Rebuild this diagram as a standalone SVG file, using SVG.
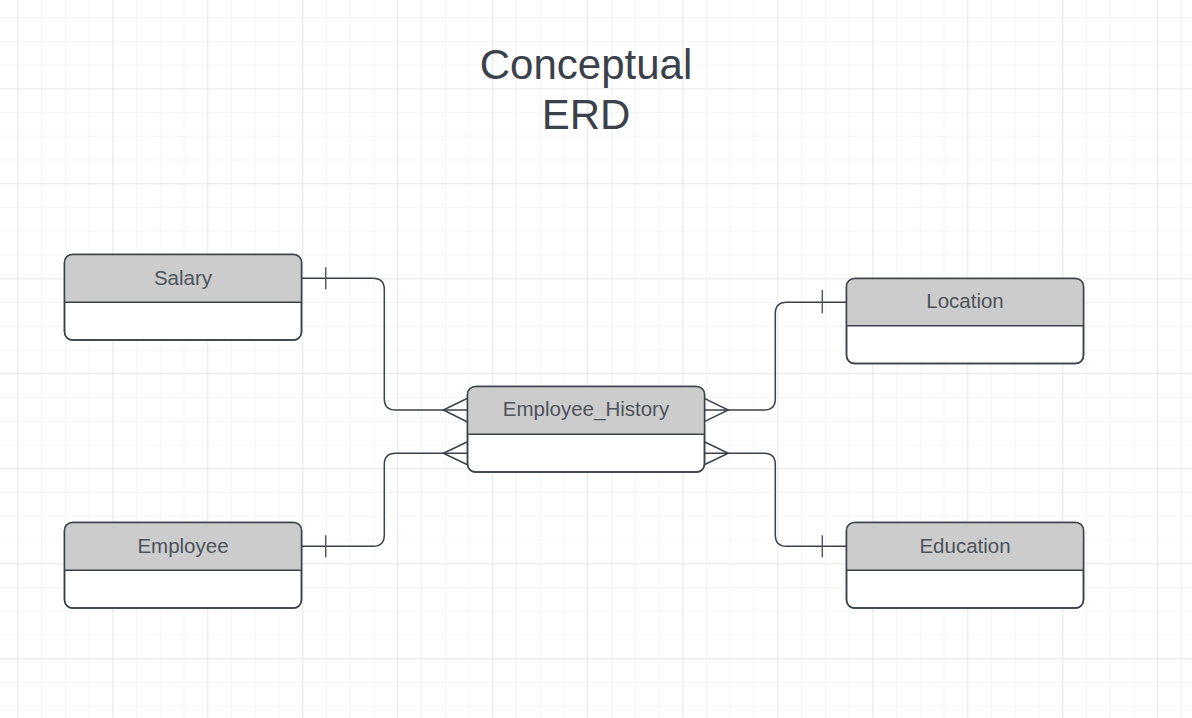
<svg xmlns="http://www.w3.org/2000/svg" width="1192" height="718" viewBox="0 0 1192 718">
  <defs>
    <pattern id="minor" x="17.3" y="-6.7" width="23.75" height="23.75" patternUnits="userSpaceOnUse">
      <path d="M0 0 H23.75 M0 0 V23.75" fill="none" stroke="#ececec" stroke-width="1"/>
    </pattern>
    <pattern id="major" x="17.3" y="-6.7" width="95" height="95" patternUnits="userSpaceOnUse">
      <path d="M0 0 H95 M0 0 V95" fill="none" stroke="#dcdcdc" stroke-width="1"/>
    </pattern>
  </defs>
  <style>
    .box { fill: #ffffff; stroke: #3a414a; stroke-width: 1.5; }
    .outline { fill: none; stroke: #3a414a; stroke-width: 1.5; }
    .head { fill: #cccccc; }
    .div { stroke: #3a414a; stroke-width: 1.5; }
    .lbl { font-family: "Liberation Sans", Arial, sans-serif; font-size: 20.5px; fill: #4d535b; text-anchor: middle; }
    .title { font-family: "Liberation Sans", Arial, sans-serif; font-size: 42px; fill: #3a414a; text-anchor: middle; }
    .conn { fill: none; stroke: #3a414a; stroke-width: 1.5; }
    .tick { fill: none; stroke: #555b63; stroke-width: 1.5; }
  </style>
  <rect width="1192" height="718" fill="#ffffff"/>
  <rect width="1192" height="718" fill="url(#minor)"/>
  <rect width="1192" height="718" fill="url(#major)"/>

  <g id="title">
    <text class="title" x="586" y="79">Conceptual</text>
    <text class="title" x="586" y="129">ERD</text>
  </g>

  <g id="connectors">
    <!-- Salary to Employee_History -->
    <path class="conn" d="M301.5 278.3 H373 Q384.3 278.3 384.3 289.6 V398.7 Q384.3 410 395.6 410 H467.5"/>
    <line class="tick" x1="325.7" y1="267.3" x2="325.7" y2="289.3"/>
    <path class="conn" d="M467.5 398.3 L443.3 410 L467.5 422"/>
    <!-- Employee to Employee_History -->
    <path class="conn" d="M301.5 546.3 H373 Q384.3 546.3 384.3 535 V464.6 Q384.3 453.3 395.6 453.3 H467.5"/>
    <line class="tick" x1="325.7" y1="535.3" x2="325.7" y2="557.3"/>
    <path class="conn" d="M467.5 441.7 L443.3 453.3 L467.5 464.8"/>
    <!-- Location to Employee_History -->
    <path class="conn" d="M846.5 302.3 H786.6 Q775.3 302.3 775.3 313.6 V398.7 Q775.3 410 764 410 H704.3"/>
    <line class="tick" x1="822.3" y1="290" x2="822.3" y2="313.3"/>
    <path class="conn" d="M704.3 398.3 L728.3 410 L704.3 421.7"/>
    <!-- Education to Employee_History -->
    <path class="conn" d="M846.5 546.3 H786.6 Q775.3 546.3 775.3 535 V464.6 Q775.3 453.3 764 453.3 H704.3"/>
    <line class="tick" x1="822.3" y1="535.3" x2="822.3" y2="557.3"/>
    <path class="conn" d="M704.3 441.7 L728.3 453.3 L704.3 464.8"/>
  </g>

  <g id="salary">
    <rect class="box" x="64.5" y="254.5" width="237" height="85.5" rx="8"/>
    <path class="head" d="M64.5 302.3 V262.5 Q64.5 254.5 72.5 254.5 H293.5 Q301.5 254.5 301.5 262.5 V302.3 Z"/>
    <line class="div" x1="64.5" y1="302.3" x2="301.5" y2="302.3"/>
    <rect class="outline" x="64.5" y="254.5" width="237" height="85.5" rx="8"/>
    <text class="lbl" x="183" y="284.5">Salary</text>
  </g>

  <g id="employee">
    <rect class="box" x="64.5" y="522.5" width="237" height="85.5" rx="8"/>
    <path class="head" d="M64.5 570.3 V530.5 Q64.5 522.5 72.5 522.5 H293.5 Q301.5 522.5 301.5 530.5 V570.3 Z"/>
    <line class="div" x1="64.5" y1="570.3" x2="301.5" y2="570.3"/>
    <rect class="outline" x="64.5" y="522.5" width="237" height="85.5" rx="8"/>
    <text class="lbl" x="183" y="552.5">Employee</text>
  </g>

  <g id="employee_history">
    <rect class="box" x="467.5" y="386.5" width="237" height="85.5" rx="8"/>
    <path class="head" d="M467.5 434.3 V394.5 Q467.5 386.5 475.5 386.5 H696.5 Q704.5 386.5 704.5 394.5 V434.3 Z"/>
    <line class="div" x1="467.5" y1="434.3" x2="704.5" y2="434.3"/>
    <rect class="outline" x="467.5" y="386.5" width="237" height="85.5" rx="8"/>
    <text class="lbl" x="586" y="416">Employee_History</text>
  </g>

  <g id="location">
    <rect class="box" x="846.5" y="278.5" width="237" height="85" rx="8"/>
    <path class="head" d="M846.5 325.8 V286.5 Q846.5 278.5 854.5 278.5 H1075.5 Q1083.5 278.5 1083.5 286.5 V325.8 Z"/>
    <line class="div" x1="846.5" y1="325.8" x2="1083.5" y2="325.8"/>
    <rect class="outline" x="846.5" y="278.5" width="237" height="85" rx="8"/>
    <text class="lbl" x="965" y="308">Location</text>
  </g>

  <g id="education">
    <rect class="box" x="846.5" y="522.5" width="237" height="85.5" rx="8"/>
    <path class="head" d="M846.5 570.3 V530.5 Q846.5 522.5 854.5 522.5 H1075.5 Q1083.5 522.5 1083.5 530.5 V570.3 Z"/>
    <line class="div" x1="846.5" y1="570.3" x2="1083.5" y2="570.3"/>
    <rect class="outline" x="846.5" y="522.5" width="237" height="85.5" rx="8"/>
    <text class="lbl" x="965" y="552.5">Education</text>
  </g>
</svg>
